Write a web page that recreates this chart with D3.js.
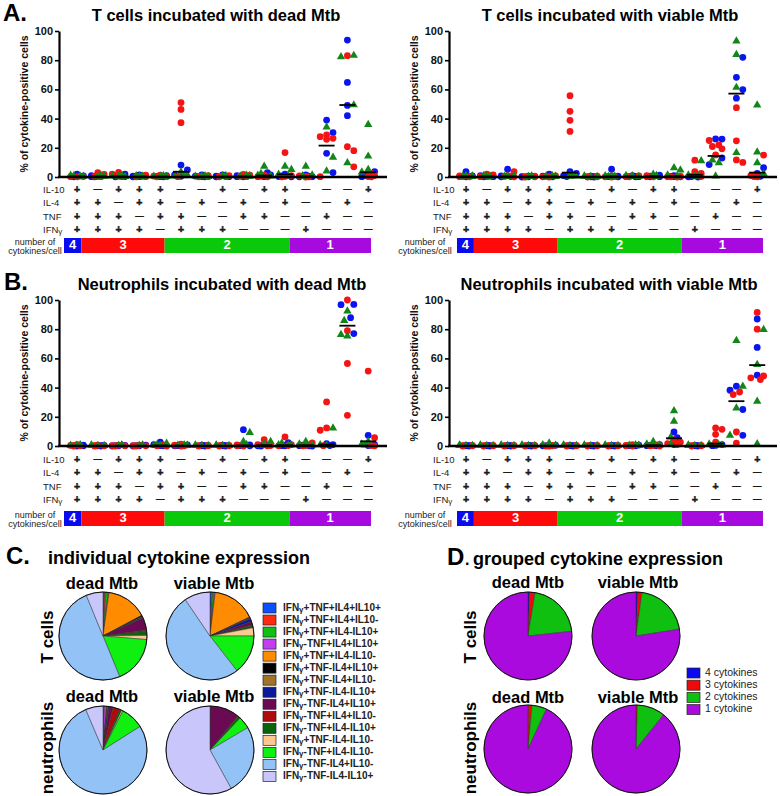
<!DOCTYPE html>
<html><head><meta charset="utf-8">
<script src="https://cdn.jsdelivr.net/npm/d3@7"></script>
<style>body{margin:0;background:#fff} svg{display:block;font-family:"Liberation Sans",Arial,Helvetica,sans-serif}</style>
</head><body><svg id="c" width="780" height="796"></svg>
<script>
// ---------- DATA ----------
const yTicks = [0, 20, 40, 60, 80, 100];
const il10Signs = ["+","—","+","+","+","—","—","+","—","+","+","—","—","—","+"];
const il4Signs  = ["+","+","—","+","+","—","+","—","+","—","+","—","—","+","—"];
const tnfSigns  = ["+","+","+","—","+","+","—","—","+","+","—","—","+","—","—"];
const ifngSigns = ["+","+","+","+","—","+","+","+","—","—","—","+","—","—","—"];
const rowLabels = ["IL-10","IL-4","TNF","IFNγ"];
const groupCounts = [1, 4, 6, 4];
const groupLabels = ["4", "3", "2", "1"];

// T cells, dead Mtb
const tDeadBlue = [[2.0,0.8,0.3,0.1],[1.0,0.4,0.2,0.1],[2.0,0.6,0.3,0.1],[1.5,0.5,0.2,0.1],[1.0,0.4,0.2,0.1],[8.2,4.8,1.5,0.5],[1.5,0.6,0.2,0.1],[1.5,0.6,0.2,0.1],[1.0,0.4,0.2,0.1],[3.0,1.5,0.5,0.2],[2.0,0.8,0.3,0.1],[1.5,0.6,0.2,0.1],[39.0,30.4,16.2,3.0],[93.8,64.8,49.0,42.0],[3.7,1.0,0.2]];
const tDeadRed = [[0.6,0.3,0.2,0.1],[3.0,1.8,0.5,0.2],[3.2,2.0,0.5,0.2],[1.2,0.5,0.2,0.1],[1.2,0.6,0.2,0.1],[51.0,46.3,37.2,0.2],[1.0,0.4,0.2,0.1],[1.0,0.4,0.2,0.1],[1.8,1.2,0.5,0.2],[1.2,0.5,0.2,0.1],[16.7,1.0,0.4,0.1],[0.8,0.3,0.1,0.0],[28.8,27.6,26.5,25.8,0.2],[83.1,20.8,18.0,7.0],[2.5,1.0,0.3,0.1]];
const tDeadGreen = [[0.8,0.4,0.2,0.1],[0.6,0.3,0.1,0.1],[0.8,0.3,0.1,0.0],[0.4,0.2,0.1,0.0],[0.5,0.2,0.1,0.0],[3.0,1.0,0.5,0.2],[0.5,0.2,0.1,0.0],[0.6,0.3,0.1,0.0],[0.8,0.4,0.2,0.1],[7.0,2.0,0.8,0.3],[7.0,4.8,1.5,0.5],[7.0,1.0,0.4,0.1],[33.8,13.2,3.7],[82.9,82.0,49.0,9.4],[35.6,13.9,4.8,3.0]];
const tDeadMedian = [0.3,0.3,0.3,0.2,0.2,3.6,0.2,0.2,0.3,1.0,1.8,0.4,21.5,49.3,3.2];

// T cells, viable Mtb
const tViaBlue = [[3.7,0.8,0.3,0.1],[1.0,0.4,0.2,0.1],[5.3,0.8,0.3,0.1],[0.6,0.3,0.1,0.0],[2.0,0.5,0.2,0.1],[3.7,2.5,1.0,0.3],[0.5,0.2,0.1,0.0],[5.3,0.6,0.2,0.1],[1.0,0.4,0.2,0.1],[1.2,0.5,0.2,0.1],[1.0,0.4,0.2,0.1],[0.8,0.3,0.1,0.0],[26.1,26.0,13.0,8.5],[82.0,68.3,59.9,54.0],[6.4,2.5,0.5]];
const tViaRed = [[0.8,0.3,0.2,0.1],[2.0,1.5,0.5,0.2],[3.7,1.0,0.4,0.1],[0.5,0.2,0.1,0.0],[0.8,0.4,0.1,0.0],[55.7,45.0,38.8,31.2],[0.5,0.2,0.1,0.0],[0.8,0.3,0.1,0.0],[0.8,0.4,0.2,0.1],[1.0,0.4,0.2,0.1],[0.5,0.2,0.1,0.0],[11.5,3.7,2.5,0.3],[25.0,22.0,20.9,19.3,15.1],[47.5,24.8,11.7,10.0],[15.0,1.0,0.3,0.1]];
const tViaGreen = [[0.6,0.3,0.1,0.0],[0.5,0.2,0.1,0.0],[0.6,0.3,0.1,0.0],[0.3,0.1,0.0,0.0],[0.5,0.2,0.1,0.0],[1.0,0.4,0.2,0.1],[0.3,0.1,0.0,0.0],[0.5,0.2,0.1,0.0],[0.6,0.3,0.1,0.0],[1.5,0.6,0.2,0.1],[6.0,4.4,1.0,0.3],[10.8,1.0,0.4,0.1],[11.2,9.4,0.3],[92.7,83.5,61.0,16.3],[48.9,16.7,9.4,2.0]];
const tViaMedian = [0.3,0.3,0.3,0.2,0.3,3.0,0.1,0.3,0.3,0.5,0.5,1.5,14.4,57.1,3.0];

// Neutrophils, dead Mtb
const nDeadBlue = [[0.5,0.2,0.1,0.0],[0.4,0.2,0.1,0.0],[0.4,0.2,0.1,0.0],[0.5,0.2,0.1,0.0],[2.7,1.0,0.3,0.1],[0.8,0.3,0.1,0.0],[0.5,0.2,0.1,0.0],[0.5,0.2,0.1,0.0],[11.2,0.8,0.3,0.1],[0.8,0.3,0.1,0.0],[2.3,0.5,0.2,0.1],[0.5,0.2,0.1,0.0],[1.6,1.0,0.3],[97.0,96.8,87.9,77.0],[7.3,1.0,0.3]];
const nDeadRed = [[1.0,0.4,0.1,0.0],[0.5,0.2,0.1,0.0],[0.6,0.3,0.1,0.0],[0.6,0.3,0.1,0.0],[0.8,0.3,0.1,0.0],[1.2,0.5,0.2,0.1],[0.4,0.2,0.1,0.0],[0.4,0.2,0.1,0.0],[0.8,0.3,0.1,0.0],[4.3,1.0,0.3,0.1],[6.2,1.0,0.3,0.1],[2.2,0.8,0.3,0.1],[30.2,12.4,10.8,0.2],[100.0,79.0,56.5,21.0],[51.3,5.7,0.3,0.1]];
const nDeadGreen = [[0.4,0.2,0.1,0.0],[0.3,0.1,0.0,0.0],[0.3,0.1,0.0,0.0],[0.3,0.1,0.0,0.0],[1.5,0.5,0.2,0.1],[0.4,0.2,0.1,0.0],[0.3,0.1,0.0,0.0],[0.3,0.1,0.0,0.0],[8.9,2.7,0.5,0.1],[2.7,1.0,0.3,0.1],[1.6,0.5,0.2,0.1],[2.7,1.0,0.3,0.1],[11.9,0.5,0.2],[92.0,85.6,76.0,75.0],[2.7,1.0,0.3]];
const nDeadMedian = [0.1,0.1,0.1,0.1,0.3,0.2,0.1,0.1,0.3,0.5,0.5,0.5,1.0,82.4,3.2];

// Neutrophils, viable Mtb
const nViaBlue = [[0.4,0.2,0.1,0.0],[0.4,0.2,0.1,0.0],[0.4,0.2,0.1,0.0],[0.4,0.2,0.1,0.0],[0.5,0.2,0.1,0.0],[0.4,0.2,0.1,0.0],[0.4,0.2,0.1,0.0],[0.4,0.2,0.1,0.0],[0.6,0.3,0.1,0.0],[1.0,0.4,0.2,0.1],[9.6,5.7,1.0],[0.4,0.2,0.1,0.0],[1.0,0.4,0.2],[41.0,38.2,25.0,7.3],[87.0,67.5,48.5]];
const nViaRed = [[0.4,0.2,0.1,0.0],[0.4,0.2,0.1,0.0],[0.4,0.2,0.1,0.0],[0.4,0.2,0.1,0.0],[0.4,0.2,0.1,0.0],[0.4,0.2,0.1,0.0],[0.4,0.2,0.1,0.0],[0.4,0.2,0.1,0.0],[1.0,0.4,0.2,0.1],[0.8,0.3,0.1,0.0],[4.3,2.7,1.6,1.0],[0.4,0.2,0.1,0.0],[12.4,11.4,8.0,2.7],[37.0,35.2,9.6,2.0],[91.5,80.0,48.0,46.7,45.5]];
const nViaGreen = [[0.3,0.1,0.0,0.0],[0.3,0.1,0.0,0.0],[0.3,0.1,0.0,0.0],[0.3,0.1,0.0,0.0],[1.6,0.5,0.2,0.0],[0.3,0.1,0.0,0.0],[0.3,0.1,0.0,0.0],[0.3,0.1,0.0,0.0],[0.4,0.2,0.1,0.0],[2.7,1.0,0.3,0.1],[23.8,16.5,5.7,1.0],[0.3,0.1,0.0,0.0],[1.0,0.4,0.2],[71.9,40.5,25.6,6.9],[79.4,55.4,30.2,1.1]];
const nViaMedian = [0.1,0.1,0.1,0.1,0.2,0.1,0.1,0.1,0.2,0.5,5.3,0.1,1.6,30.7,55.4];

// Pie data, individual cytokine expression (% of cytokine-positive cells)
const subsetLabels = ["IFNγ+TNF+IL4+IL10+","IFNγ+TNF+IL4+IL10-","IFNγ+TNF+IL4-IL10+","IFNγ-TNF+IL4+IL10+","IFNγ+TNF+IL4-IL10-","IFNγ+TNF-IL4+IL10+","IFNγ+TNF-IL4+IL10-","IFNγ+TNF-IL4-IL10+","IFNγ-TNF-IL4+IL10+","IFNγ-TNF+IL4+IL10-","IFNγ-TNF+IL4-IL10+","IFNγ+TNF-IL4-IL10-","IFNγ-TNF+IL4-IL10-","IFNγ-TNF-IL4+IL10-","IFNγ-TNF-IL4-IL10+"];
const subsetColors = ["#0a50ff","#ff2a10","#10c010","#c040f0","#ff8c00","#000000","#a0722a","#0a1a9a","#6a0a52","#b00a0a","#0a640a","#ffc890","#10f010","#92c2f6","#c8c6fa"];
const pieTDead   = [0.6,0.5,0.8,0.3,15.0,0.5,0.3,0.3,4.5,0.5,1.5,1.5,17.5,50.0,6.2];
const pieTVia    = [0.5,0.5,0.6,0.3,16.0,0.3,0.3,1.2,1.2,0.3,0.8,3.0,14.5,51.0,9.5];
const pieNDead   = [0.1,0.3,0.1,0.8,0.2,0.1,0.3,0.3,1.5,2.5,0.8,0.5,8.5,77.6,6.4];
const pieNVia    = [0.0,0.0,0.0,0.0,0.1,0.0,0.0,0.0,10.8,0.3,0.8,0.0,4.5,25.5,58.0];

// Pie data, grouped cytokine expression
const groupNames  = ["4 cytokines","3 cytokines","2 cytokines","1 cytokine"];
const groupColors = ["#0a0aee","#ee0a0a","#10c010","#aa0ade"];
const grpTDead = [0.6,2.0,20.7,76.7];
const grpTVia  = [0.7,1.5,20.3,77.5];
const grpNDead = [0.1,1.4,5.4,93.1];
const grpNVia  = [0.0,0.5,10.3,89.2];

// ---------- DRAW ----------
const svg = d3.select("#c");
const seriesColor = {b:"#0a14f0", r:"#f51414", g:"#13861a"};
const barColors = ["#0a0aee","#ff0a0a","#0ac80a","#a60ade"];
const allSigns = [il10Signs, il4Signs, tnfSigns, ifngSigns];

function gammaText(sel, str, small, shift){
  const i = str.indexOf("γ");
  if (i < 0) { sel.text(str); return; }
  sel.append("tspan").text(str.slice(0,i));
  sel.append("tspan").text("γ").attr("font-size", small).attr("dy", shift);
  if (i+1 < str.length) sel.append("tspan").text(str.slice(i+1)).attr("dy", -shift);
}

function drawScatter(p){
  const g = svg.append("g");
  const step = 20.8;
  const x = d3.scalePoint().domain(d3.range(15)).range([p.col0, p.col0 + 14*step]);
  const y = d3.scaleLinear().domain([0,100]).range([p.y0, p.y100]);

  g.append("text").attr("x", p.tx).attr("y", p.ty).attr("text-anchor","middle")
    .attr("font-size",16.5).attr("font-weight","bold").text(p.title);
  if (p.letter) g.append("text").attr("x", p.lx).attr("y", p.ty).attr("font-size",24)
    .attr("font-weight","bold").text(p.letter);

  g.append("text").attr("transform",`translate(${p.ylx},${(p.y0+p.y100)/2}) rotate(-90)`)
    .attr("text-anchor","middle").attr("dominant-baseline","middle")
    .attr("font-size",10.5).attr("font-weight","bold").attr("fill","#111")
    .text("% of cytokine-positive cells");

  const ya = g.append("g").attr("transform",`translate(${p.ax},0)`)
    .call(d3.axisLeft(y).tickValues(yTicks).tickSize(4).tickSizeOuter(0).tickPadding(2));
  ya.select(".domain").attr("stroke-width",2.2).attr("stroke","#000");
  ya.selectAll(".tick line").attr("stroke-width",1.6).attr("stroke","#000");
  ya.selectAll(".tick text").attr("font-size",11).attr("font-weight","bold").attr("fill","#111")
    .attr("font-family","Liberation Sans, Arial, sans-serif");

  const offs = [0, 3.2, -3.2, 6.4, -6.4];
  const sym = d3.symbol().type(d3.symbolTriangle).size(30);
  for (let i = 0; i < 15; i++){
    const pts = [];
    p.blue[i].forEach(v => pts.push({v, s:"b"}));
    p.red[i].forEach(v => pts.push({v, s:"r"}));
    p.green[i].forEach(v => pts.push({v, s:"g"}));
    const placed = [];
    const order = pts.slice().sort((a,b)=>b.v-a.v);
    order.forEach(pt => {
      const py = y(pt.v);
      let best = 0, bestD = -1;
      for (const o of offs){
        let md = Infinity;
        placed.forEach(q => { md = Math.min(md, Math.hypot(q.dx - o, q.py - py)); });
        if (md >= 6.2){ best = o; bestD = Infinity; break; }
        if (md > bestD + 0.01){ bestD = md; best = o; }
      }
      pt.dx = best; pt.py = py; placed.push(pt);
    });
    ["b","r","g"].forEach(s => {
      pts.filter(d => d.s === s).forEach(d => {
        if (s === "g"){
          g.append("path").attr("d", sym).attr("fill", seriesColor.g)
            .attr("transform",`translate(${x(i)+d.dx},${d.py-0.5})`);
        } else {
          g.append("circle").attr("cx", x(i)+d.dx).attr("cy", d.py).attr("r",3.4)
            .attr("fill", seriesColor[s]);
        }
      });
    });
    g.append("line").attr("x1", x(i)-8).attr("x2", x(i)+8)
      .attr("y1", y(p.median[i])).attr("y2", y(p.median[i]))
      .attr("stroke","#000").attr("stroke-width",1.8);
  }

  g.append("line").attr("x1", p.ax-1).attr("x2", p.xr).attr("y1", y(0)).attr("y2", y(0))
    .attr("stroke","#000").attr("stroke-width",2.4);

  rowLabels.forEach((lab, r) => {
    const t = g.append("text").attr("x", p.labx).attr("y", p.rows[r]).attr("dominant-baseline","middle")
      .attr("font-size",9.5).attr("fill","#222");
    gammaText(t, lab, 8, 2);
    allSigns[r].forEach((s, i) => {
      g.append("text").attr("x", x(i)).attr("y", p.rows[r] + (s === "+" ? 0.5 : 0))
        .attr("text-anchor","middle").attr("dominant-baseline","middle")
        .attr("font-size", s === "+" ? 10.5 : 8.5).attr("font-weight","bold")
        .attr("fill","#1a1a1a").attr("stroke","#1a1a1a").attr("stroke-width", s === "+" ? 0.5 : 0.3)
        .text(s);
    });
  });

  const cum = [0];
  groupCounts.forEach(c => cum.push(cum[cum.length-1] + c));
  const bounds = cum.map((c, k) => k === 0 ? p.bx0 : (k === cum.length-1 ? p.bx1 : x(c) - step/2 + p.shift));
  groupCounts.forEach((c, k) => {
    g.append("rect").attr("x", bounds[k]).attr("y", p.by).attr("width", bounds[k+1]-bounds[k]).attr("height",15)
      .attr("fill", barColors[k]);
    g.append("text").attr("x", (bounds[k]+bounds[k+1])/2).attr("y", p.by + 8).attr("text-anchor","middle")
      .attr("dominant-baseline","middle").attr("font-size",13).attr("font-weight","bold").attr("fill","#fff")
      .text(groupLabels[k]);
  });
  g.append("text").attr("x", p.numx).attr("y", p.by + 5).attr("text-anchor","middle")
    .attr("dominant-baseline","middle").attr("font-size",9).attr("fill","#222").text("number of");
  g.append("text").attr("x", p.numx).attr("y", p.by + 14).attr("text-anchor","middle")
    .attr("dominant-baseline","middle").attr("font-size",9).attr("fill","#222").text("cytokines/cell");
}

const leftGeom  = {ax:59, col0:77, xr:387, labx:43, numx:35, bx0:64, bx1:371, shift:-6, ylx:25, lx:3};
const rightGeom = {ax:449, col0:466, xr:777, labx:433, numx:425, bx0:457, bx1:763, shift:-2.5, ylx:415};
const topGeom = {y0:177, y100:31, rows:[190,203,217,230], by:238, ty:21};
const botGeom = {y0:446, y100:300, rows:[460,473,487,500], by:511, ty:290};

drawScatter(Object.assign({}, leftGeom, topGeom, {title:"T cells incubated with dead Mtb", tx:216, letter:"A.",
  blue:tDeadBlue, red:tDeadRed, green:tDeadGreen, median:tDeadMedian}));
drawScatter(Object.assign({}, rightGeom, topGeom, {title:"T cells incubated with viable Mtb", tx:610,
  blue:tViaBlue, red:tViaRed, green:tViaGreen, median:tViaMedian}));
drawScatter(Object.assign({}, leftGeom, botGeom, {title:"Neutrophils incubated with dead Mtb", tx:222, letter:"B.", lx:4,
  blue:nDeadBlue, red:nDeadRed, green:nDeadGreen, median:nDeadMedian}));
drawScatter(Object.assign({}, rightGeom, botGeom, {title:"Neutrophils incubated with viable Mtb", tx:609,
  blue:nViaBlue, red:nViaRed, green:nViaGreen, median:nViaMedian}));

// ---------- PIES ----------
const pie = d3.pie().sort(null).value(d => d);
const arc = d3.arc().innerRadius(0).outerRadius(44);
function drawPie(vals, colors, cx, cy){
  const g = svg.append("g").attr("transform",`translate(${cx},${cy})`);
  g.selectAll("path").data(pie(vals)).join("path").attr("d", arc)
    .attr("fill", (d,i) => colors[i]).attr("stroke","#333").attr("stroke-width",0.5);
  g.append("circle").attr("r",44).attr("fill","none").attr("stroke","#111").attr("stroke-width",1);
}
function bold(x, y, txt, size, anchor){
  return svg.append("text").attr("x",x).attr("y",y).attr("font-size",size).attr("font-weight","bold")
    .attr("text-anchor",anchor||"start").text(txt);
}
function vlabel(x, y, txt){
  svg.append("text").attr("transform",`translate(${x},${y}) rotate(-90)`).attr("text-anchor","middle")
    .attr("font-size",17).attr("font-weight","bold").text(txt);
}

// C
bold(6, 564, "C.", 24);
bold(48, 564, "individual cytokine expression", 18);
bold(102, 589, "dead Mtb", 16.5, "middle");
bold(214, 589, "viable Mtb", 16.5, "middle");
bold(102, 702, "dead Mtb", 16.5, "middle");
bold(214, 702, "viable Mtb", 16.5, "middle");
vlabel(53, 637, "T cells");
vlabel(53, 748, "neutrophils");
drawPie(pieTDead, subsetColors, 103, 636);
drawPie(pieTVia, subsetColors, 210, 636);
drawPie(pieNDead, subsetColors, 103, 750);
drawPie(pieNVia, subsetColors, 210, 750);
subsetLabels.forEach((lab, i) => {
  const yy = 608 + i*12.03;
  svg.append("rect").attr("x",263).attr("y",yy-5).attr("width",13).attr("height",10)
    .attr("fill",subsetColors[i]).attr("stroke","#222").attr("stroke-width",0.7);
  const t = svg.append("text").attr("x",283).attr("y",yy).attr("dominant-baseline","middle")
    .attr("font-size",10).attr("font-weight","bold").attr("fill","#222");
  gammaText(t, lab, 8, 2);
});

// D
bold(447, 565, "D", 24);
bold(465, 565, ".", 16);
bold(473, 565, "grouped cytokine expression", 18);
bold(528, 588, "dead Mtb", 16.5, "middle");
bold(638, 588, "viable Mtb", 16.5, "middle");
bold(528, 703, "dead Mtb", 16.5, "middle");
bold(638, 703, "viable Mtb", 16.5, "middle");
vlabel(476, 637, "T cells");
vlabel(476, 748, "neutrophils");
drawPie(grpTDead, groupColors, 528, 636);
drawPie(grpTVia, groupColors, 636, 636);
drawPie(grpNDead, groupColors, 528, 749);
drawPie(grpNVia, groupColors, 636, 749);
groupNames.forEach((lab, i) => {
  const yy = 673 + i*12.2;
  svg.append("rect").attr("x",687).attr("y",yy-5).attr("width",13).attr("height",10)
    .attr("fill",groupColors[i]).attr("stroke","#222").attr("stroke-width",0.7);
  svg.append("text").attr("x",705).attr("y",yy).attr("dominant-baseline","middle")
    .attr("font-size",10.5).attr("fill","#222").text(lab);
});
</script></body></html>
